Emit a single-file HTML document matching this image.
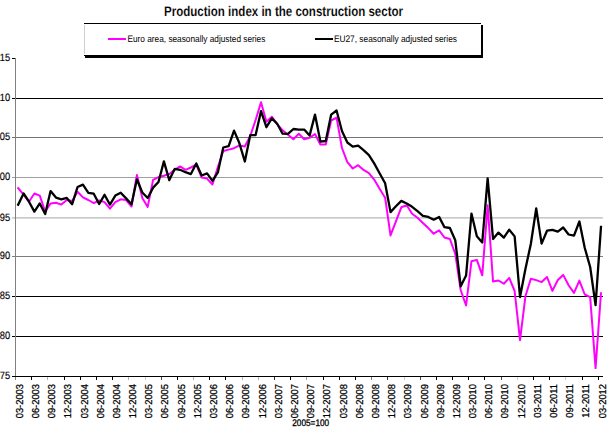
<!DOCTYPE html>
<html><head><meta charset="utf-8"><title>Production index in the construction sector</title>
<style>html,body{margin:0;padding:0;background:#fff;}body{width:610px;height:427px;overflow:hidden;}svg{display:block;}</style>
</head><body>
<svg width="610" height="427" viewBox="0 0 610 427" text-rendering="geometricPrecision">
<rect width="610" height="427" fill="#fff"/>
<text x="0" y="15.5" transform="translate(164,0) scale(0.824,1)" font-family="'Liberation Sans', sans-serif" font-weight="bold" font-size="14" fill="#000" stroke="#fff" stroke-width="0.12">Production index in the construction sector</text>
<g shape-rendering="crispEdges">
<rect x="84" y="23" width="397" height="1" fill="#000"/>
<rect x="84" y="25" width="1" height="29" fill="#cfcfcf"/>
<rect x="481" y="25" width="2" height="33" fill="#000"/>
<rect x="84" y="55" width="399" height="1" fill="#000"/>
<rect x="85" y="56" width="398" height="2" fill="#000"/>
<rect x="108" y="38" width="18" height="2" fill="#f0f"/>
<rect x="315" y="38" width="18" height="2" fill="#000"/>
</g>
<text x="0" y="42" transform="translate(127.5,0) scale(0.87,1)" font-family="'Liberation Sans', sans-serif" font-size="9.5" fill="#000">Euro area, seasonally adjusted series</text>
<text x="0" y="42" transform="translate(333.9,0) scale(0.876,1)" font-family="'Liberation Sans', sans-serif" font-size="9.5" fill="#000">EU27, seasonally adjusted series</text>
<g shape-rendering="crispEdges">
<rect x="16" y="98" width="587" height="1" fill="#000"/>
<rect x="16" y="137" width="587" height="1" fill="#747474"/>
<rect x="16" y="177" width="587" height="1" fill="#a0a0a0"/>
<rect x="16" y="217" width="587" height="1" fill="#cbcbcb"/>
<rect x="16" y="218" width="587" height="1" fill="#dadada"/>
<rect x="16" y="256" width="587" height="1" fill="#7e7e7e"/>
<rect x="16" y="296" width="587" height="1" fill="#000"/>
<rect x="16" y="336" width="587" height="1" fill="#000"/>
<rect x="15" y="58" width="1" height="322" fill="#808080"/>
<rect x="12" y="98" width="3" height="1" fill="#000"/>
<rect x="12" y="137" width="3" height="1" fill="#747474"/>
<rect x="12" y="177" width="3" height="1" fill="#a0a0a0"/>
<rect x="12" y="217" width="3" height="1" fill="#cbcbcb"/>
<rect x="12" y="218" width="3" height="1" fill="#dadada"/>
<rect x="12" y="256" width="3" height="1" fill="#7e7e7e"/>
<rect x="12" y="296" width="3" height="1" fill="#000"/>
<rect x="12" y="336" width="3" height="1" fill="#000"/>
<rect x="12" y="58" width="3" height="1" fill="#000"/>
<rect x="12" y="376" width="3" height="1" fill="#000"/>
<rect x="12" y="376" width="591" height="1" fill="#000"/>
</g>
<g shape-rendering="crispEdges">
<rect x="15" y="377" width="1" height="3" fill="#808080"/>
<rect x="31" y="377" width="1" height="3" fill="#000000"/>
<rect x="47" y="377" width="1" height="3" fill="#b2b2b2"/>
<rect x="64" y="377" width="1" height="3" fill="#000000"/>
<rect x="80" y="377" width="1" height="3" fill="#000000"/>
<rect x="96" y="377" width="1" height="3" fill="#000000"/>
<rect x="112" y="377" width="1" height="3" fill="#000000"/>
<rect x="128" y="377" width="1" height="3" fill="#b2b2b2"/>
<rect x="145" y="377" width="1" height="3" fill="#cccccc"/>
<rect x="161" y="377" width="1" height="3" fill="#4d4d4d"/>
<rect x="177" y="377" width="1" height="3" fill="#000000"/>
<rect x="193" y="377" width="1" height="3" fill="#b2b2b2"/>
<rect x="209" y="377" width="1" height="3" fill="#000000"/>
<rect x="225" y="377" width="1" height="3" fill="#000000"/>
<rect x="242" y="377" width="1" height="3" fill="#b2b2b2"/>
<rect x="258" y="377" width="1" height="3" fill="#b2b2b2"/>
<rect x="274" y="377" width="1" height="3" fill="#333333"/>
<rect x="290" y="377" width="1" height="3" fill="#000000"/>
<rect x="306" y="377" width="1" height="3" fill="#a6a6a6"/>
<rect x="323" y="377" width="1" height="3" fill="#000000"/>
<rect x="339" y="377" width="1" height="3" fill="#000000"/>
<rect x="355" y="377" width="1" height="3" fill="#000000"/>
<rect x="371" y="377" width="1" height="3" fill="#808080"/>
<rect x="387" y="377" width="1" height="3" fill="#333333"/>
<rect x="404" y="377" width="1" height="3" fill="#cccccc"/>
<rect x="420" y="377" width="1" height="3" fill="#4d4d4d"/>
<rect x="436" y="377" width="1" height="3" fill="#000000"/>
<rect x="452" y="377" width="1" height="3" fill="#000000"/>
<rect x="468" y="377" width="1" height="3" fill="#000000"/>
<rect x="484" y="377" width="1" height="3" fill="#000000"/>
<rect x="501" y="377" width="1" height="3" fill="#4d4d4d"/>
<rect x="517" y="377" width="1" height="3" fill="#cccccc"/>
<rect x="533" y="377" width="1" height="3" fill="#000000"/>
<rect x="549" y="377" width="1" height="3" fill="#000000"/>
<rect x="565" y="377" width="1" height="3" fill="#cccccc"/>
<rect x="582" y="377" width="1" height="3" fill="#000000"/>
<rect x="598" y="377" width="1" height="3" fill="#000000"/>
</g>
<text x="0" y="0" transform="translate(10.2,61.2) scale(0.88,1)" text-anchor="end" font-family="'Liberation Sans', sans-serif" font-size="10.6" fill="#000" stroke="#000" stroke-width="0.15">115</text>
<text x="0" y="0" transform="translate(10.2,101.2) scale(0.88,1)" text-anchor="end" font-family="'Liberation Sans', sans-serif" font-size="10.6" fill="#000" stroke="#000" stroke-width="0.15">110</text>
<text x="0" y="0" transform="translate(10.2,140.2) scale(0.88,1)" text-anchor="end" font-family="'Liberation Sans', sans-serif" font-size="10.6" fill="#000" stroke="#000" stroke-width="0.15">105</text>
<text x="0" y="0" transform="translate(10.2,180.2) scale(0.88,1)" text-anchor="end" font-family="'Liberation Sans', sans-serif" font-size="10.6" fill="#000" stroke="#000" stroke-width="0.15">100</text>
<text x="0" y="0" transform="translate(10.2,220.7) scale(0.88,1)" text-anchor="end" font-family="'Liberation Sans', sans-serif" font-size="10.6" fill="#000" stroke="#000" stroke-width="0.15">95</text>
<text x="0" y="0" transform="translate(10.2,259.2) scale(0.88,1)" text-anchor="end" font-family="'Liberation Sans', sans-serif" font-size="10.6" fill="#000" stroke="#000" stroke-width="0.15">90</text>
<text x="0" y="0" transform="translate(10.2,299.2) scale(0.88,1)" text-anchor="end" font-family="'Liberation Sans', sans-serif" font-size="10.6" fill="#000" stroke="#000" stroke-width="0.15">85</text>
<text x="0" y="0" transform="translate(10.2,339.2) scale(0.88,1)" text-anchor="end" font-family="'Liberation Sans', sans-serif" font-size="10.6" fill="#000" stroke="#000" stroke-width="0.15">80</text>
<text x="0" y="0" transform="translate(10.2,379.2) scale(0.88,1)" text-anchor="end" font-family="'Liberation Sans', sans-serif" font-size="10.6" fill="#000" stroke="#000" stroke-width="0.15">75</text>
<text transform="translate(22.80,384) rotate(-90) scale(0.935,1)" text-anchor="end" font-family="'Liberation Sans', sans-serif" font-size="10" fill="#000" stroke="#000" stroke-width="0.25">03-2003</text>
<text transform="translate(38.99,384) rotate(-90) scale(0.935,1)" text-anchor="end" font-family="'Liberation Sans', sans-serif" font-size="10" fill="#000" stroke="#000" stroke-width="0.25">06-2003</text>
<text transform="translate(55.17,384) rotate(-90) scale(0.935,1)" text-anchor="end" font-family="'Liberation Sans', sans-serif" font-size="10" fill="#000" stroke="#000" stroke-width="0.25">09-2003</text>
<text transform="translate(71.36,384) rotate(-90) scale(0.935,1)" text-anchor="end" font-family="'Liberation Sans', sans-serif" font-size="10" fill="#000" stroke="#000" stroke-width="0.25">12-2003</text>
<text transform="translate(87.55,384) rotate(-90) scale(0.935,1)" text-anchor="end" font-family="'Liberation Sans', sans-serif" font-size="10" fill="#000" stroke="#000" stroke-width="0.25">03-2004</text>
<text transform="translate(103.74,384) rotate(-90) scale(0.935,1)" text-anchor="end" font-family="'Liberation Sans', sans-serif" font-size="10" fill="#000" stroke="#000" stroke-width="0.25">06-2004</text>
<text transform="translate(119.93,384) rotate(-90) scale(0.935,1)" text-anchor="end" font-family="'Liberation Sans', sans-serif" font-size="10" fill="#000" stroke="#000" stroke-width="0.25">09-2004</text>
<text transform="translate(136.11,384) rotate(-90) scale(0.935,1)" text-anchor="end" font-family="'Liberation Sans', sans-serif" font-size="10" fill="#000" stroke="#000" stroke-width="0.25">12-2004</text>
<text transform="translate(152.30,384) rotate(-90) scale(0.935,1)" text-anchor="end" font-family="'Liberation Sans', sans-serif" font-size="10" fill="#000" stroke="#000" stroke-width="0.25">03-2005</text>
<text transform="translate(168.49,384) rotate(-90) scale(0.935,1)" text-anchor="end" font-family="'Liberation Sans', sans-serif" font-size="10" fill="#000" stroke="#000" stroke-width="0.25">06-2005</text>
<text transform="translate(184.68,384) rotate(-90) scale(0.935,1)" text-anchor="end" font-family="'Liberation Sans', sans-serif" font-size="10" fill="#000" stroke="#000" stroke-width="0.25">09-2005</text>
<text transform="translate(200.87,384) rotate(-90) scale(0.935,1)" text-anchor="end" font-family="'Liberation Sans', sans-serif" font-size="10" fill="#000" stroke="#000" stroke-width="0.25">12-2005</text>
<text transform="translate(217.05,384) rotate(-90) scale(0.935,1)" text-anchor="end" font-family="'Liberation Sans', sans-serif" font-size="10" fill="#000" stroke="#000" stroke-width="0.25">03-2006</text>
<text transform="translate(233.24,384) rotate(-90) scale(0.935,1)" text-anchor="end" font-family="'Liberation Sans', sans-serif" font-size="10" fill="#000" stroke="#000" stroke-width="0.25">06-2006</text>
<text transform="translate(249.43,384) rotate(-90) scale(0.935,1)" text-anchor="end" font-family="'Liberation Sans', sans-serif" font-size="10" fill="#000" stroke="#000" stroke-width="0.25">09-2006</text>
<text transform="translate(265.62,384) rotate(-90) scale(0.935,1)" text-anchor="end" font-family="'Liberation Sans', sans-serif" font-size="10" fill="#000" stroke="#000" stroke-width="0.25">12-2006</text>
<text transform="translate(281.81,384) rotate(-90) scale(0.935,1)" text-anchor="end" font-family="'Liberation Sans', sans-serif" font-size="10" fill="#000" stroke="#000" stroke-width="0.25">03-2007</text>
<text transform="translate(297.99,384) rotate(-90) scale(0.935,1)" text-anchor="end" font-family="'Liberation Sans', sans-serif" font-size="10" fill="#000" stroke="#000" stroke-width="0.25">06-2007</text>
<text transform="translate(314.18,384) rotate(-90) scale(0.935,1)" text-anchor="end" font-family="'Liberation Sans', sans-serif" font-size="10" fill="#000" stroke="#000" stroke-width="0.25">09-2007</text>
<text transform="translate(330.37,384) rotate(-90) scale(0.935,1)" text-anchor="end" font-family="'Liberation Sans', sans-serif" font-size="10" fill="#000" stroke="#000" stroke-width="0.25">12-2007</text>
<text transform="translate(346.56,384) rotate(-90) scale(0.935,1)" text-anchor="end" font-family="'Liberation Sans', sans-serif" font-size="10" fill="#000" stroke="#000" stroke-width="0.25">03-2008</text>
<text transform="translate(362.75,384) rotate(-90) scale(0.935,1)" text-anchor="end" font-family="'Liberation Sans', sans-serif" font-size="10" fill="#000" stroke="#000" stroke-width="0.25">06-2008</text>
<text transform="translate(378.93,384) rotate(-90) scale(0.935,1)" text-anchor="end" font-family="'Liberation Sans', sans-serif" font-size="10" fill="#000" stroke="#000" stroke-width="0.25">09-2008</text>
<text transform="translate(395.12,384) rotate(-90) scale(0.935,1)" text-anchor="end" font-family="'Liberation Sans', sans-serif" font-size="10" fill="#000" stroke="#000" stroke-width="0.25">12-2008</text>
<text transform="translate(411.31,384) rotate(-90) scale(0.935,1)" text-anchor="end" font-family="'Liberation Sans', sans-serif" font-size="10" fill="#000" stroke="#000" stroke-width="0.25">03-2009</text>
<text transform="translate(427.50,384) rotate(-90) scale(0.935,1)" text-anchor="end" font-family="'Liberation Sans', sans-serif" font-size="10" fill="#000" stroke="#000" stroke-width="0.25">06-2009</text>
<text transform="translate(443.69,384) rotate(-90) scale(0.935,1)" text-anchor="end" font-family="'Liberation Sans', sans-serif" font-size="10" fill="#000" stroke="#000" stroke-width="0.25">09-2009</text>
<text transform="translate(459.87,384) rotate(-90) scale(0.935,1)" text-anchor="end" font-family="'Liberation Sans', sans-serif" font-size="10" fill="#000" stroke="#000" stroke-width="0.25">12-2009</text>
<text transform="translate(476.06,384) rotate(-90) scale(0.935,1)" text-anchor="end" font-family="'Liberation Sans', sans-serif" font-size="10" fill="#000" stroke="#000" stroke-width="0.25">03-2010</text>
<text transform="translate(492.25,384) rotate(-90) scale(0.935,1)" text-anchor="end" font-family="'Liberation Sans', sans-serif" font-size="10" fill="#000" stroke="#000" stroke-width="0.25">06-2010</text>
<text transform="translate(508.44,384) rotate(-90) scale(0.935,1)" text-anchor="end" font-family="'Liberation Sans', sans-serif" font-size="10" fill="#000" stroke="#000" stroke-width="0.25">09-2010</text>
<text transform="translate(524.63,384) rotate(-90) scale(0.935,1)" text-anchor="end" font-family="'Liberation Sans', sans-serif" font-size="10" fill="#000" stroke="#000" stroke-width="0.25">12-2010</text>
<text transform="translate(540.81,384) rotate(-90) scale(0.935,1)" text-anchor="end" font-family="'Liberation Sans', sans-serif" font-size="10" fill="#000" stroke="#000" stroke-width="0.25">03-2011</text>
<text transform="translate(557.00,384) rotate(-90) scale(0.935,1)" text-anchor="end" font-family="'Liberation Sans', sans-serif" font-size="10" fill="#000" stroke="#000" stroke-width="0.25">06-2011</text>
<text transform="translate(573.19,384) rotate(-90) scale(0.935,1)" text-anchor="end" font-family="'Liberation Sans', sans-serif" font-size="10" fill="#000" stroke="#000" stroke-width="0.25">09-2011</text>
<text transform="translate(589.38,384) rotate(-90) scale(0.935,1)" text-anchor="end" font-family="'Liberation Sans', sans-serif" font-size="10" fill="#000" stroke="#000" stroke-width="0.25">12-2011</text>
<text transform="translate(605.57,384) rotate(-90) scale(0.935,1)" text-anchor="end" font-family="'Liberation Sans', sans-serif" font-size="10" fill="#000" stroke="#000" stroke-width="0.25">03-2012</text>
<text x="0" y="426" transform="translate(292.3,0) scale(0.865,1)" font-family="'Liberation Sans', sans-serif" font-size="9.5" fill="#000" stroke="#000" stroke-width="0.3">2005=100</text>
<polyline points="18.20,188.20 23.59,194.70 28.99,201.70 34.39,193.50 39.78,195.60 45.18,211.60 50.57,203.40 55.97,202.80 61.37,204.60 66.76,199.90 72.16,201.10 77.55,191.70 82.95,197.40 88.35,200.00 93.74,203.10 99.14,200.50 104.53,202.10 109.93,208.70 115.33,202.10 120.72,199.30 126.12,200.10 131.51,206.50 136.91,174.90 142.31,198.00 147.70,206.90 153.10,179.90 158.49,177.20 163.89,175.70 169.29,174.00 174.68,169.90 180.08,166.40 185.47,169.80 190.87,167.50 196.27,164.70 201.66,177.60 207.06,178.60 212.45,184.50 217.85,167.00 223.25,151.00 228.64,149.60 234.04,148.20 239.43,145.40 244.83,146.50 250.23,136.00 255.62,120.00 261.02,102.20 266.41,121.80 271.81,116.70 277.21,124.30 282.60,130.20 288.00,134.80 293.39,139.30 298.79,133.70 304.19,139.30 309.58,137.90 314.98,134.00 320.37,144.50 325.77,144.50 331.17,120.50 336.56,117.60 341.96,148.00 347.35,162.20 352.75,168.50 358.15,165.20 363.54,169.90 368.94,173.10 374.33,179.80 379.73,189.00 385.13,197.70 390.52,235.40 395.92,221.30 401.31,207.30 406.71,205.30 412.11,213.70 417.50,217.80 422.90,223.00 428.29,228.10 433.69,233.70 439.09,230.40 444.48,237.50 449.88,239.00 455.27,253.90 460.67,290.00 466.07,305.50 471.46,261.30 476.86,259.90 482.25,275.30 487.65,205.30 493.05,281.60 498.44,280.50 503.84,283.70 509.23,277.90 514.63,291.00 520.03,340.20 525.42,296.30 530.82,278.70 536.21,280.10 541.61,282.10 547.01,277.00 552.40,290.90 557.80,280.00 563.19,274.90 568.59,285.20 573.99,292.90 579.38,280.60 584.78,294.50 590.17,297.10 595.57,368.10 600.97,293.20" fill="none" stroke="#f0f" stroke-width="2" stroke-linejoin="round" stroke-linecap="square"/>
<polyline points="18.20,204.60 23.59,193.50 28.99,201.70 34.39,211.60 39.78,203.40 45.18,214.00 50.57,191.10 55.97,197.60 61.37,199.30 66.76,197.90 72.16,204.20 77.55,187.00 82.95,184.60 88.35,192.80 93.74,193.70 99.14,204.00 104.53,194.80 109.93,204.60 115.33,195.60 120.72,192.70 126.12,198.40 131.51,204.30 136.91,179.30 142.31,192.50 147.70,198.00 153.10,187.60 158.49,182.00 163.89,161.40 169.29,180.10 174.68,168.90 180.08,169.80 185.47,172.20 190.87,174.10 196.27,163.50 201.66,175.50 207.06,173.40 212.45,180.90 217.85,172.40 223.25,147.50 228.64,146.10 234.04,130.60 239.43,143.30 244.83,161.50 250.23,135.20 255.62,135.00 261.02,111.10 266.41,127.20 271.81,118.40 277.21,123.70 282.60,133.70 288.00,133.90 293.39,129.00 298.79,129.60 304.19,129.60 309.58,135.60 314.98,114.60 320.37,141.60 325.77,141.00 331.17,114.60 336.56,110.50 341.96,131.00 347.35,142.50 352.75,146.70 358.15,145.70 363.54,150.20 368.94,155.10 374.33,163.60 379.73,173.50 385.13,183.30 390.52,212.10 395.92,206.30 401.31,200.90 406.71,203.50 412.11,206.80 417.50,211.10 422.90,215.80 428.29,216.90 433.69,219.70 439.09,216.90 444.48,227.20 449.88,228.00 455.27,240.20 460.67,286.30 466.07,275.60 471.46,213.60 476.86,236.20 482.25,242.50 487.65,178.40 493.05,239.00 498.44,232.60 503.84,237.60 509.23,229.70 514.63,236.40 520.03,297.00 525.42,269.00 530.82,244.00 536.21,208.50 541.61,243.60 547.01,230.70 552.40,229.90 557.80,231.60 563.19,227.50 568.59,234.50 573.99,235.70 579.38,221.50 584.78,248.00 590.17,267.00 595.57,305.20 600.97,226.90" fill="none" stroke="#000" stroke-width="2.3" stroke-linejoin="round" stroke-linecap="square"/>
</svg>
</body></html>
